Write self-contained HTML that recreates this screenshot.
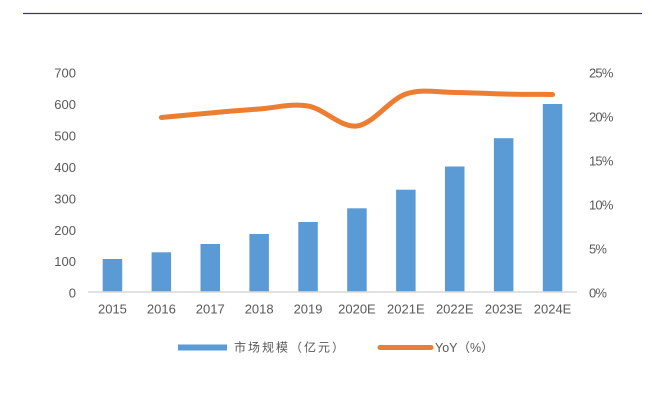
<!DOCTYPE html>
<html><head><meta charset="utf-8"><style>
html,body{margin:0;padding:0;background:#fff;}
svg{display:block;}
text{font-family:"Liberation Sans","Noto Sans CJK SC",sans-serif;fill:#595959;}
</style></head><body>
<svg width="664" height="405" viewBox="0 0 664 405" xmlns="http://www.w3.org/2000/svg">
<line x1="23" y1="13.5" x2="642" y2="13.5" stroke="#3d3768" stroke-width="1.2"/>
<!-- left axis labels -->
<g font-size="13" text-anchor="end">
<text x="76" y="77.5">700</text>
<text x="76" y="109">600</text>
<text x="76" y="140.5">500</text>
<text x="76" y="172">400</text>
<text x="76" y="203.5">300</text>
<text x="76" y="235">200</text>
<text x="76" y="266">100</text>
<text x="76" y="297.5">0</text>
</g>
<!-- right axis labels -->
<g font-size="13" text-anchor="start" letter-spacing="-0.8">
<text x="589" y="77.5">25%</text>
<text x="589" y="121.5">20%</text>
<text x="589" y="165.5">15%</text>
<text x="589" y="209.5">10%</text>
<text x="589" y="253.5">5%</text>
<text x="589" y="297.5">0%</text>
</g>
<!-- bars -->
<g fill="#5b9bd5">
<rect x="102.7" y="259" width="19.5" height="33"/>
<rect x="151.6" y="252.3" width="19.5" height="39.7"/>
<rect x="200.5" y="244" width="19.5" height="48"/>
<rect x="249.4" y="234" width="19.5" height="58"/>
<rect x="298.3" y="222" width="19.5" height="70"/>
<rect x="347.2" y="208.3" width="19.5" height="83.7"/>
<rect x="396.1" y="189.7" width="19.5" height="102.3"/>
<rect x="445" y="166.5" width="19.5" height="125.5"/>
<rect x="493.9" y="138.2" width="19.5" height="153.8"/>
<rect x="542.8" y="104" width="19.5" height="188"/>
</g>
<line x1="88" y1="292" x2="577" y2="292" stroke="#d9d9d9" stroke-width="1.5"/>
<!-- x labels -->
<g font-size="13" text-anchor="middle">
<text x="112.45" y="313.5">2015</text>
<text x="161.35" y="313.5">2016</text>
<text x="210.25" y="313.5">2017</text>
<text x="259.15" y="313.5">2018</text>
<text x="308.05" y="313.5">2019</text>
<text x="356.95" y="313.5">2020E</text>
<text x="405.85" y="313.5">2021E</text>
<text x="454.75" y="313.5">2022E</text>
<text x="503.65" y="313.5">2023E</text>
<text x="552.55" y="313.5">2024E</text>
</g>
<!-- line -->
<path d="M161.35,117.5 C169.5,116.75 193.95,114.42 210.25,113 C226.55,111.58 242.85,110.17 259.15,109 C275.45,107.83 291.75,103.17 308.05,106 C324.35,108.83 340.65,128 356.95,126 C373.25,124 389.55,99.58 405.85,94 C422.15,88.42 438.45,92.5 454.75,92.5 C471.05,92.5 487.35,93.67 503.65,94 C519.95,94.33 544.4,94.42 552.55,94.5" fill="none" stroke="#ed7d31" stroke-width="5" stroke-linecap="round" stroke-linejoin="round"/>
<!-- legend -->
<rect x="178" y="344.5" width="49" height="6" fill="#5b9bd5"/>
<text x="234" y="351.5" font-size="12" letter-spacing="2">市场规模（亿元）</text>
<line x1="380" y1="347.5" x2="431" y2="347.5" stroke="#ed7d31" stroke-width="5" stroke-linecap="round"/>
<text x="435" y="352" font-size="12.5">YoY（%）</text>
</svg>
</body></html>
